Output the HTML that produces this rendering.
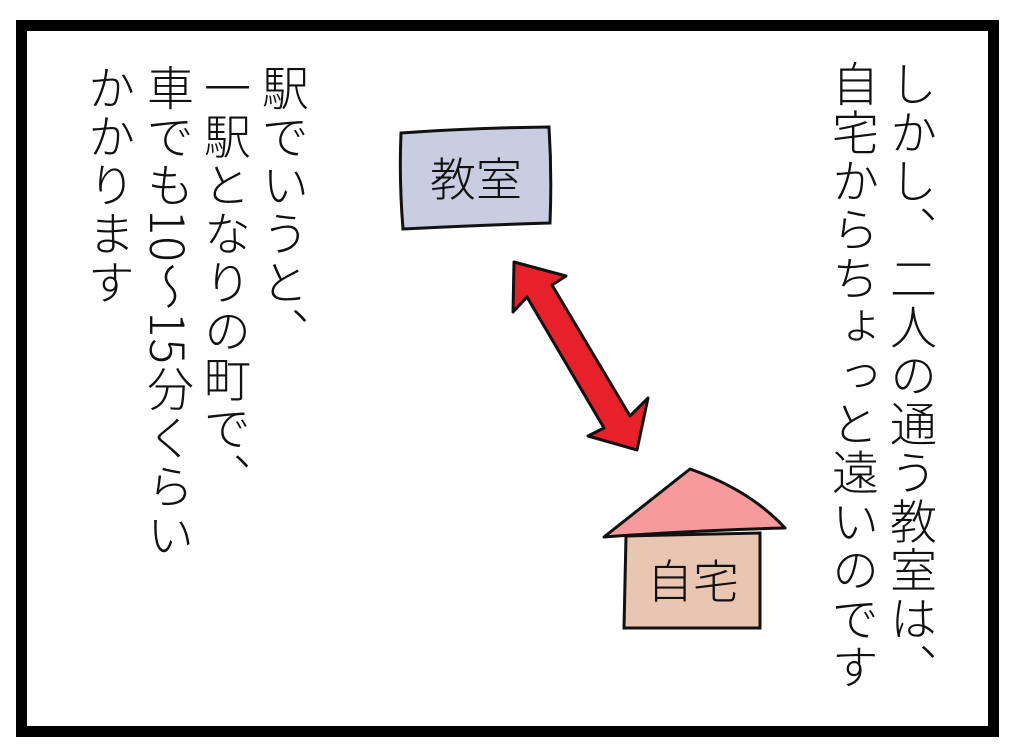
<!DOCTYPE html>
<html><head><meta charset="utf-8"><style>
html,body{margin:0;padding:0;background:#fff;}
body{width:1012px;height:750px;position:relative;overflow:hidden;font-family:"Noto Sans CJK JP","Liberation Sans",sans-serif;color:#111;font-weight:300;}
.frame{position:absolute;left:16px;top:20px;width:961px;height:695px;border:11px solid #000;}
.col{position:absolute;writing-mode:vertical-rl;font-size:47px;line-height:1;letter-spacing:1.6px;white-space:nowrap;}
</style></head><body>
<div class="frame"></div>
<svg width="1012" height="750" style="position:absolute;left:0;top:0">
<path d="M401,133 Q470,128 549,127 Q552,175 550,223 Q480,225 403,229 Q399,180 401,133Z" fill="#c8cde2" stroke="#111" stroke-width="3"/>
<text x="476" y="196" font-size="46" font-weight="300" text-anchor="middle" font-family="Noto Sans CJK JP, sans-serif" fill="#111">教室</text>
<path d="M514,262 L566,276 L552,285 L630,416 L648,398 L637,450 L588,436 L604,428 L527,297 L513,312 Z" fill="#e8202a" stroke="#111" stroke-width="3" stroke-linejoin="round"/>
<path d="M626,536 L760,533 L760,628 L624,628 Z" fill="#e8c6b2" stroke="#111" stroke-width="3"/>
<path d="M604,537 L690,469 Q750,490 785,528 Q700,530 604,537Z" fill="#f79a9c" stroke="#111" stroke-width="3" stroke-linejoin="round"/>
<text x="693" y="598" font-size="46" font-weight="300" text-anchor="middle" font-family="Noto Sans CJK JP, sans-serif" fill="#111">自宅</text>
</svg>
<div class="col" style="left:890px;top:60px;">しかし、二人の通う教室は、</div>
<div class="col" style="left:832px;top:60px;">自宅からちょっと遠いのです</div>
<div class="col" style="left:262px;top:64px;">駅でいうと、</div>
<div class="col" style="left:204px;top:64px;">一駅となりの町で、</div>
<div class="col" style="left:147px;top:64px;">車でも10～15分くらい</div>
<div class="col" style="left:88px;top:64px;">かかります</div>
</body></html>
